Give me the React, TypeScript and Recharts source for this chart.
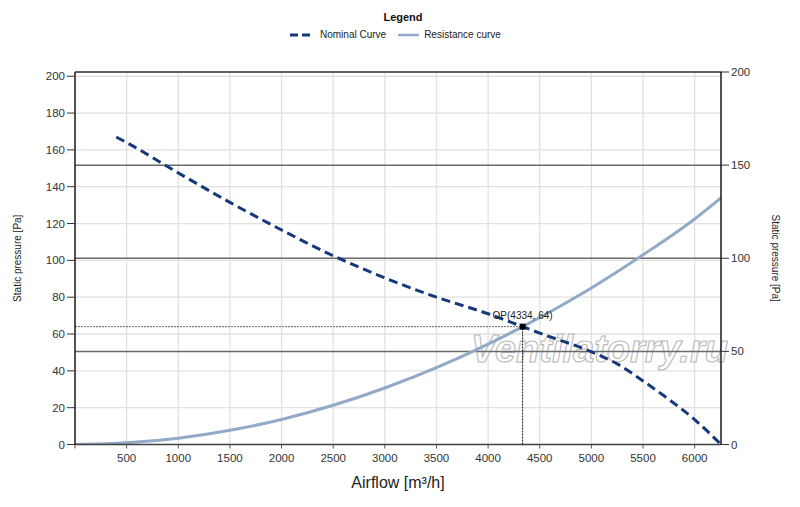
import React from 'react';
import {
  ComposedChart,
  Line,
  XAxis,
  YAxis,
  CartesianGrid,
  ReferenceLine,
  ReferenceDot,
  Legend,
  Customized,
} from 'recharts';

// ---- data ----
const nominalAirflow = [400, 500, 1000, 1500, 2000, 2500, 3000, 3500, 4000, 4334, 4500, 5000, 5250, 5500, 5750, 6000, 6255];
const nominalPressure = [167, 164, 147.5, 131.5, 116.5, 102.5, 90.5, 80, 71, 64, 60.5, 50.3, 43.8, 34.5, 24.5, 13.5, 0];

const resistanceAirflow = [0, 500, 1000, 1500, 2000, 2500, 3000, 3500, 4000, 4334, 4500, 5000, 5500, 6000, 6255];
const resistancePressure = [0, 0.9, 3.4, 7.7, 13.6, 21.3, 30.7, 41.7, 54.5, 64, 69, 85, 103, 122.5, 134];

const xTicks = [0, 500, 1000, 1500, 2000, 2500, 3000, 3500, 4000, 4500, 5000, 5500, 6000];
const leftTicks = [0, 20, 40, 60, 80, 100, 120, 140, 160, 180, 200];
const rightTicks = [0, 50, 100, 150, 200];
const rightMajorLines = [50, 100, 150];

const opPoint = { x: 4334, y: 64 };
const seriesNames = ['Nominal Curve', 'Resistance curve'];
const watermarkText = 'Ventilatorry.ru';

const nominalData = nominalAirflow.map((x, i) => ({ x, y: nominalPressure[i] }));
const resistanceData = resistanceAirflow.map((x, i) => ({ x, y: resistancePressure[i] }));

const NAVY = '#15387a';
const STEEL = '#92a9c8';
const FONT = '"Liberation Sans", Arial, sans-serif';

const LegendBox = () => (
  <div style={{ position: 'relative', width: 800, height: 44, fontFamily: FONT }}>
    <div
      style={{
        position: 'absolute',
        left: 0,
        width: 806,
        top: 11,
        lineHeight: '13px',
        textAlign: 'center',
        fontSize: 11,
        fontWeight: 'bold',
        color: '#111',
      }}
    >
      Legend
    </div>
    <div
      style={{
        position: 'absolute',
        left: 290,
        top: 29,
        height: 12,
        display: 'flex',
        alignItems: 'center',
        fontSize: 10,
        color: '#222',
        lineHeight: '12px',
        whiteSpace: 'nowrap',
      }}
    >
      <svg width={21} height={6} style={{ display: 'block' }}>
        <line x1={0} y1={3} x2={21} y2={3} stroke={NAVY} strokeWidth={3} strokeDasharray="8 4" />
      </svg>
      <span style={{ marginLeft: 9 }}>{seriesNames[0]}</span>
      <svg width={21} height={6} style={{ display: 'block', marginLeft: 12 }}>
        <line x1={0} y1={3} x2={21} y2={3} stroke={STEEL} strokeWidth={2.5} />
      </svg>
      <span style={{ marginLeft: 5 }}>{seriesNames[1]}</span>
    </div>
  </div>
);

const Watermark = () => (
  <text
    x={471}
    y={362}
    fontFamily={FONT}
    fontSize={38}
    fontWeight="bold"
    fontStyle="italic"
    fill="#ffffff"
    fillOpacity={0.55}
    stroke="#b9b9b9"
    strokeWidth={1.1}
  >
    {watermarkText}
  </text>
);

const leftTitle = ({ viewBox }: any) => {
  const cx = viewBox.x + 17;
  const cy = viewBox.y + viewBox.height / 2;
  return (
    <text
      x={cx}
      y={cy}
      transform={`rotate(-90 ${cx} ${cy})`}
      textAnchor="middle"
      dominantBaseline="central"
      fontSize={10}
      fill="#222"
    >
      Static pressure [Pa]
    </text>
  );
};

const rightTitle = ({ viewBox }: any) => {
  const cx = viewBox.x + 54;
  const cy = viewBox.y + viewBox.height / 2;
  return (
    <text
      x={cx}
      y={cy}
      transform={`rotate(90 ${cx} ${cy})`}
      textAnchor="middle"
      dominantBaseline="central"
      fontSize={10}
      fill="#222"
    >
      Static pressure [Pa]
    </text>
  );
};

const OpSquare = (props: any) => (
  <rect x={props.cx - 3} y={props.cy - 3} width={6} height={6} fill="#000" />
);

export default function App() {
  return (
    <div
      style={{
        position: 'absolute',
        left: 0,
        top: 0,
        width: 800,
        height: 507,
        background: '#fff',
        fontFamily: FONT,
      }}
    >
      <ComposedChart width={800} height={507} margin={{ top: 28, right: 0, bottom: 0, left: 0 }}>
        <Legend
          verticalAlign="top"
          align="left"
          content={<LegendBox />}
          wrapperStyle={{ top: 0, left: 0, width: 800, height: 44 }}
        />
        <CartesianGrid yAxisId="left" stroke="#e1e1e1" strokeWidth={1.3} />
        <XAxis
          type="number"
          dataKey="x"
          domain={[0, 6255]}
          ticks={xTicks}
          allowDataOverflow
          height={62.5}
          tickSize={4}
          tickMargin={5}
          tickFormatter={(v: number) => (v === 0 ? '' : String(v))}
          axisLine={{ stroke: '#444', strokeWidth: 1.3 }}
          tickLine={{ stroke: '#555' }}
          tick={{ fontSize: 11.5, fill: '#333' }}
          label={{ value: 'Airflow [m³/h]', position: 'insideBottom', offset: 19, fontSize: 16, fill: '#222' }}
        />
        <YAxis
          yAxisId="left"
          type="number"
          domain={[0, 202.3]}
          ticks={leftTicks}
          allowDataOverflow
          width={75}
          tickSize={8}
          tickMargin={2}
          axisLine={{ stroke: '#000', strokeWidth: 1.3 }}
          tickLine={{ stroke: '#333' }}
          tick={{ fontSize: 11.5, fill: '#333' }}
          label={{ content: leftTitle }}
        />
        <YAxis
          yAxisId="right"
          orientation="right"
          type="number"
          domain={[0, 200]}
          ticks={rightTicks}
          allowDataOverflow
          width={79}
          tickSize={8}
          tickMargin={2}
          axisLine={{ stroke: '#000', strokeWidth: 1.3 }}
          tickLine={{ stroke: '#333' }}
          tick={{ fontSize: 11.5, fill: '#333' }}
          label={{ content: rightTitle }}
        />
        {rightMajorLines.map((v) => (
          <ReferenceLine key={v} yAxisId="right" y={v} stroke="#6a6a6a" strokeWidth={1.5} />
        ))}
        <ReferenceLine yAxisId="right" y={200} stroke="#333" strokeWidth={1.3} />
        <Customized component={<Watermark />} />
        <ReferenceLine
          yAxisId="left"
          segment={[{ x: 0, y: opPoint.y }, { x: opPoint.x, y: opPoint.y }]}
          stroke="#666"
          strokeDasharray="2 1"
          strokeWidth={1}
        />
        <ReferenceLine
          yAxisId="left"
          segment={[{ x: opPoint.x, y: 0 }, { x: opPoint.x, y: opPoint.y }]}
          stroke="#111"
          strokeDasharray="2 1"
          strokeWidth={1}
        />
        <Line
          yAxisId="left"
          data={resistanceData}
          dataKey="y"
          name={seriesNames[1]}
          type="monotone"
          stroke={STEEL}
          strokeWidth={3}
          dot={false}
          activeDot={false}
          isAnimationActive={false}
        />
        <Line
          yAxisId="left"
          data={nominalData}
          dataKey="y"
          name={seriesNames[0]}
          type="monotone"
          stroke={NAVY}
          strokeWidth={3}
          strokeDasharray="9 5"
          dot={false}
          activeDot={false}
          isAnimationActive={false}
        />
        <ReferenceDot
          yAxisId="left"
          x={opPoint.x}
          y={opPoint.y}
          r={3}
          shape={OpSquare}
          label={{ value: `OP(${opPoint.x}, ${opPoint.y})`, position: 'top', offset: 5, fontSize: 10, fill: '#222' }}
        />
      </ComposedChart>
    </div>
  );
}
